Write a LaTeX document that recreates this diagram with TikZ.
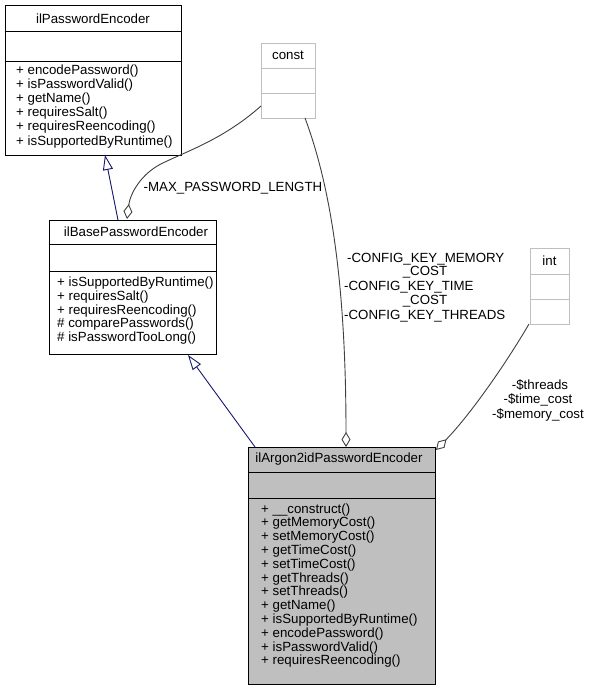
\documentclass[tikz,border=0pt]{standalone}
\usepackage{fontspec}
\setmainfont{Liberation Sans}
\usetikzlibrary{arrows.meta}
\definecolor{edgenavy}{HTML}{191970}
\definecolor{boxgray}{HTML}{BFBFBF}
\definecolor{lightline}{HTML}{BFBFBF}
\definecolor{edgegray}{HTML}{404040}
\tikzset{
  cls/.style={draw=black, line width=1pt, inner sep=0pt, anchor=north west},
  lcls/.style={draw=lightline, line width=1pt, inner sep=0pt, anchor=north west},
  sep/.style={line width=1pt},
  txt/.style={inner sep=0pt, font=\fontsize{13.3}{14}\selectfont},
  inh/.style={draw=edgenavy, line width=0.9pt, -{Triangle[open, length=15pt, width=10pt, line width=0.9pt]}},
  agg/.style={draw=edgegray, line width=0.9pt, -{Diamond[open, length=15pt, width=9pt, line width=0.9pt]}}
}
\begin{document}
\begin{tikzpicture}[x=1pt,y=-1pt]
\useasboundingbox (0,0) rectangle (589,691);
\fill[white] (0,0) rectangle (589,691);

% ilPasswordEncoder
\node[cls, minimum width=176.5pt, minimum height=149.5pt] (pe) at (4.5,5) {};
\draw[sep] (4.5,31) -- (181,31);
\draw[sep] (4.5,61) -- (181,61);
\node[txt, anchor=base] (pet) at (93,23) {ilPasswordEncoder};
\foreach \t [count=\i from 0] in {+ encodePassword(), + isPasswordValid(), + getName(), + requiresSalt(), + requiresReencoding(), + isSupportedByRuntime()}
  \node[txt, anchor=base west] (pem\i) at (16,74+14.2*\i) {\t};

% ilBasePasswordEncoder
\node[cls, minimum width=167pt, minimum height=134pt] (base) at (49,220) {};
\draw[sep] (49,244) -- (216,244);
\draw[sep] (49,271) -- (216,271);
\node[txt, anchor=base] (baset) at (136,236.5) {ilBasePasswordEncoder};
\foreach \t [count=\i from 0] in {+ isSupportedByRuntime(), + requiresSalt(), + requiresReencoding(), \# comparePasswords(), \# isPasswordTooLong()}
  \node[txt, anchor=base west] (basem\i) at (57,286.5+13.8*\i) {\t};

% const
\node[lcls, minimum width=54pt, minimum height=75pt] (const) at (261,43) {};
\draw[sep, lightline] (261,68) -- (315,68);
\draw[sep, lightline] (261,93) -- (315,93);
\node[txt, anchor=base] (constt) at (288,59) {const};

% int
\node[lcls, minimum width=39pt, minimum height=76pt] (int) at (530,248) {};
\draw[sep, lightline] (530,274) -- (569,274);
\draw[sep, lightline] (530,299) -- (569,299);
\node[txt, anchor=base] (intt) at (549.5,265) {int};

% ilArgon2idPasswordEncoder
\node[cls, fill=boxgray, minimum width=187pt, minimum height=237pt] (arg) at (248,447) {};
\draw[sep] (248,472) -- (435,472);
\draw[sep] (248,498) -- (435,498);
\node[txt, anchor=base] (argt) at (339,462) {ilArgon2idPasswordEncoder};
\foreach \t [count=\i from 0] in {+ \_\_construct(), + getMemoryCost(), + setMemoryCost(), + getTimeCost(), + setTimeCost(), + getThreads(), + setThreads(), + getName(), + isSupportedByRuntime(), + encodePassword(), + isPasswordValid(), + requiresReencoding()}
  \node[txt, anchor=base west] (argm\i) at (261,513+13.8*\i) {\t};

% connector end points
\coordinate (c1s) at (118,220);
\coordinate (c1e) at (105,155);
\coordinate (c2s) at (261,106);
\coordinate (c2e) at (127,219);
\coordinate (c3s) at (305,118);
\coordinate (c3e) at (346,447);
\coordinate (c4s) at (255,447);
\coordinate (c4e) at (188,355);
\coordinate (c5s) at (529,324);
\coordinate (c5e) at (436,450);

% connectors
\draw[inh] (c1s) -- (c1e);
\draw[agg] (c2s) .. controls (225,138) and (190,150) .. (165,162) .. controls (140,173) and (130,195) .. (c2e);
\draw[agg] (c3s) .. controls (330,185) and (346,280) .. (c3e);
\draw[inh] (c4s) -- (c4e);
\draw[agg] (c5s) .. controls (505,365) and (470,415) .. (c5e);

% labels
\node[txt, anchor=base] (l1) at (233,191) {-MAX\_PASSWORD\_LENGTH};
\node[txt, anchor=base west] (l2a) at (347,262) {-CONFIG\_KEY\_MEMORY};
\node[txt, anchor=base] (l2b) at (425,275) {\_COST};
\node[txt, anchor=base west] (l2c) at (344,290) {-CONFIG\_KEY\_TIME};
\node[txt, anchor=base] (l2d) at (425,304) {\_COST};
\node[txt, anchor=base west] (l2e) at (344,319) {-CONFIG\_KEY\_THREADS};
\node[txt, anchor=base] (l3a) at (540,389) {-\$threads};
\node[txt, anchor=base] (l3b) at (538,403.5) {-\$time\_cost};
\node[txt, anchor=base] (l3c) at (538,418) {-\$memory\_cost};
\end{tikzpicture}
\end{document}
